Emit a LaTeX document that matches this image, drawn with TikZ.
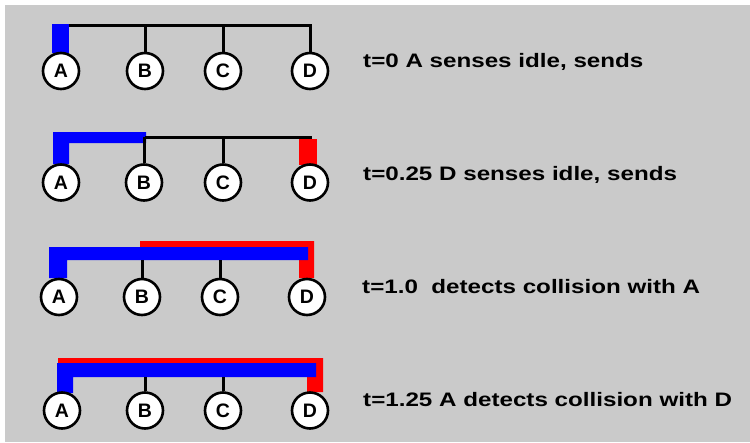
\documentclass[tikz,border=0pt]{standalone}
\usepackage{fontspec}
\setmainfont{Liberation Sans}
\newfontfamily\captionfont{Liberation Sans}[FakeStretch=1.24]
\begin{document}
\begin{tikzpicture}[x=1pt,y=-1pt,
  station/.style={circle,draw=black,fill=white,line width=2.6pt,minimum size=36pt,
                  inner sep=0pt,font=\fontsize{19.5}{19.5}\selectfont\bfseries},
  bus/.style={draw=black,line width=3pt},
  sendA/.style={fill=blue},
  sendD/.style={fill=red},
  caption/.style={anchor=base west,inner sep=0pt,
                  font=\captionfont\fontsize{19.5}{20}\selectfont\bfseries}]
\definecolor{panel}{RGB}{202,202,202}
\useasboundingbox (0,0) rectangle (750,442);
\fill[white] (0,0) rectangle (750,442);
\fill[panel] (5,5) rectangle (750,442);

% ---- t = 0: A starts sending ----
\fill[sendA] (52,24) rectangle (69,53);
\node[station] (a1) at (61,71) {A};
\node[station] (b1) at (145,71) {B};
\node[station] (c1) at (223,71) {C};
\node[station] (d1) at (310,71) {D};
\coordinate (w1) at (69,25);
\coordinate (e1) at (312,25);
\draw[bus] (w1) -- (e1);
\foreach \s in {b1,c1,d1} \draw[bus] (\s.north |- w1) -- (\s.north);
\node[caption] (t1) at (363,67) {t=0 A senses idle, sends};

% ---- t = 0.25: D starts sending ----
\fill[sendA] (53,132) -- (146,132) -- (146,143) -- (69,143) -- (69,164) -- (53,164) -- cycle;
\fill[sendD] (299,139) rectangle (317,165);
\node[station] (a2) at (61,182.5) {A};
\node[station] (b2) at (144,182.5) {B};
\node[station] (c2) at (223,182.5) {C};
\node[station] (d2) at (310,182.5) {D};
\coordinate (w2) at (145,137);
\coordinate (e2) at (312,137);
\draw[bus] (w2) -- (e2);
\foreach \s in {b2,c2} \draw[bus] (\s.north |- w2) -- (\s.north);
\node[caption] (t2) at (363,180) {t=0.25 D senses idle, sends};

% ---- t = 1.0: D detects the collision ----
\fill[sendD] (140,241) -- (314,241) -- (314,278) -- (299,278) -- (299,255) -- (140,255) -- cycle;
\fill[sendA] (49,247) -- (308,247) -- (308,260) -- (67,260) -- (67,278) -- (49,278) -- cycle;
\node[station] (a3) at (59,297) {A};
\node[station] (b3) at (142,297) {B};
\node[station] (c3) at (220,297) {C};
\node[station] (d3) at (307,297) {D};
\coordinate (w3) at (49,260);
\foreach \s in {b3,c3} \draw[bus] (\s.north |- w3) -- (\s.north);
\node[caption] (t3) at (362,293) {t=1.0\ \ detects collision with A};

% ---- t = 1.25: A detects the collision ----
\fill[sendD] (58,358) -- (323,358) -- (323,392) -- (307,392) -- (307,370) -- (58,370) -- cycle;
\fill[sendA] (57,363) -- (316,363) -- (316,377) -- (73,377) -- (73,393) -- (57,393) -- cycle;
\node[station] (a4) at (62,410.5) {A};
\node[station] (b4) at (145,410.5) {B};
\node[station] (c4) at (223,410.5) {C};
\node[station] (d4) at (310,410.5) {D};
\coordinate (w4) at (57,377);
\foreach \s in {b4,c4} \draw[bus] (\s.north |- w4) -- (\s.north);
\node[caption] (t4) at (363,406.5) {t=1.25 A detects collision with D};
\end{tikzpicture}
\end{document}
